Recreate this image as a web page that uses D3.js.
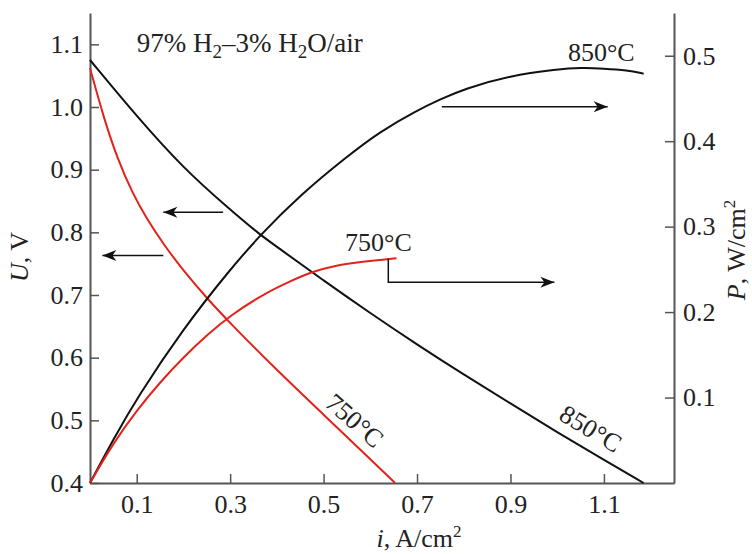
<!DOCTYPE html>
<html>
<head>
<meta charset="utf-8">
<script src="https://cdn.jsdelivr.net/npm/d3@7"></script>
<style>
    body { margin: 0; background: #fff; }
    svg { display: block; font-family: "Liberation Serif", "Times New Roman", serif; }
</style>
</head>
<body>
<div id="chart"></div>
<script>
// current density, A/cm2 and voltage, V
const i850U = [0, 0.1, 0.2, 0.3, 0.364, 0.4, 0.5, 0.6, 0.7, 0.8, 0.9, 1.0, 1.1, 1.185];
const u850 = [1.075, 0.985, 0.902, 0.836, 0.796, 0.777, 0.723, 0.671, 0.621, 0.573, 0.527, 0.481, 0.437, 0.40];
const i750U = [0, 0.03, 0.06, 0.09, 0.12, 0.16, 0.2, 0.25, 0.3, 0.4, 0.5, 0.6, 0.653];
const u750 = [1.062, 0.981, 0.915, 0.864, 0.823, 0.778, 0.739, 0.695, 0.655, 0.58, 0.509, 0.438, 0.40];

// power density, W/cm2
const i850P = [0, 0.05, 0.1, 0.2, 0.3, 0.364, 0.45, 0.55, 0.62, 0.7, 0.75, 0.8, 0.9, 1.0, 1.05, 1.1, 1.15, 1.185];
const p850 = [0, 0.051, 0.099, 0.181, 0.25, 0.29, 0.337, 0.382, 0.411, 0.436, 0.449, 0.461, 0.477, 0.484, 0.486, 0.485, 0.483, 0.479];
const i750P = [0, 0.05, 0.1, 0.15, 0.2, 0.25, 0.3, 0.371, 0.428, 0.474, 0.52, 0.585, 0.62, 0.656];
const p750 = [0, 0.047, 0.085, 0.118, 0.147, 0.173, 0.196, 0.221, 0.236, 0.247, 0.254, 0.259, 0.261, 0.263];

const xTicks = [0.1, 0.3, 0.5, 0.7, 0.9, 1.1];
const uTicks = [0.4, 0.5, 0.6, 0.7, 0.8, 0.9, 1.0, 1.1];
const pTicks = [0.1, 0.2, 0.3, 0.4, 0.5];

const width = 752, height = 554;
const margin = {top: 13, right: 78, bottom: 71, left: 90};
const black = '#111', red = '#e2231a', axisColor = '#555', textColor = '#222';
const fontSize = 26;

const svg = d3.select('#chart').append('svg')
    .attr('width', width)
    .attr('height', height);

const x = d3.scaleLinear().domain([0, 1.25]).range([margin.left, width - margin.right]);
const yU = d3.scaleLinear().domain([0.4, 1.15]).range([height - margin.bottom, margin.top]);
const yP = d3.scaleLinear().domain([0, 0.55]).range([height - margin.bottom, margin.top]);

function styleAxis(g) {
    g.attr('font-family', null).attr('font-size', null);
    g.select('.domain').attr('stroke', axisColor).attr('stroke-width', 2);
    g.selectAll('.tick line').attr('stroke', axisColor).attr('stroke-width', 1.5);
    g.selectAll('.tick text').attr('fill', textColor).style('font-size', fontSize + 'px');
}

svg.append('g')
    .attr('transform', `translate(0,${height - margin.bottom})`)
    .call(d3.axisBottom(x).tickValues(xTicks).tickSizeInner(-9).tickSizeOuter(0)
        .tickPadding(12).tickFormat(d3.format('.1f')))
    .call(styleAxis);

svg.append('g')
    .attr('transform', `translate(${margin.left},0)`)
    .call(d3.axisLeft(yU).tickValues(uTicks).tickSizeInner(-9).tickSizeOuter(0)
        .tickPadding(7).tickFormat(d3.format('.1f')))
    .call(styleAxis);

svg.append('g')
    .attr('transform', `translate(${width - margin.right},0)`)
    .call(d3.axisRight(yP).tickValues(pTicks).tickSizeInner(-9).tickSizeOuter(0)
        .tickPadding(9).tickFormat(d3.format('.1f')))
    .call(styleAxis);

// curves
const curves = [
    {xs: i850U, ys: u850, y: yU, color: black},
    {xs: i750U, ys: u750, y: yU, color: red},
    {xs: i850P, ys: p850, y: yP, color: black},
    {xs: i750P, ys: p750, y: yP, color: red}
];

curves.forEach(c => {
    const line = d3.line()
        .x(d => x(d[0]))
        .y(d => c.y(d[1]))
        .curve(d3.curveBasis);
    svg.append('path')
        .datum(d3.zip(c.xs, c.ys))
        .attr('fill', 'none')
        .attr('stroke', c.color)
        .attr('stroke-width', 2)
        .attr('d', line);
});

// arrows, points in data units: [i, value, scale]
function arrow(points) {
    const pts = points.map(p => [x(p[0]), p[2](p[1])]);
    svg.append('path')
        .attr('d', d3.line()(pts))
        .attr('fill', 'none')
        .attr('stroke', black)
        .attr('stroke-width', 1.5);
    const tip = pts[pts.length - 1], prev = pts[pts.length - 2];
    const a = Math.atan2(tip[1] - prev[1], tip[0] - prev[0]) * 180 / Math.PI;
    svg.append('path')
        .attr('d', 'M0,0 L-14,-5.5 L-10,0 L-14,5.5 Z')
        .attr('fill', black)
        .attr('transform', `translate(${tip[0]},${tip[1]}) rotate(${a})`);
}

arrow([[0.285, 0.832, yU], [0.157, 0.832, yU]]);
arrow([[0.157, 0.763, yU], [0.0265, 0.763, yU]]);
arrow([[0.753, 0.4404, yP], [1.108, 0.4404, yP]]);
arrow([[0.6385, 0.2625, yP], [0.6385, 0.235, yP], [0.994, 0.235, yP]]);

// text labels
const label = (px, py) => svg.append('text')
    .attr('x', px).attr('y', py)
    .attr('fill', textColor)
    .style('font-size', fontSize + 'px');

const title = label(x(0.1), yU(1.088)).style('font-size', '27px');
title.append('tspan').text('97% H');
title.append('tspan').text('2').attr('dy', 6).style('font-size', '19px');
title.append('tspan').text('–3% H').attr('dy', -6);
title.append('tspan').text('2').attr('dy', 6).style('font-size', '19px');
title.append('tspan').text('O/air').attr('dy', -6);

label(x(1.023), yP(0.494)).text('850°C');
label(x(0.546), yP(0.271)).text('750°C');

label(0, 0).attr('x', null).attr('y', null)
    .attr('text-anchor', 'middle').attr('dy', '0.35em')
    .attr('transform', `translate(${x(0.567)},${yU(0.5)}) rotate(41)`)
    .text('750°C');
label(0, 0).attr('x', null).attr('y', null)
    .attr('text-anchor', 'middle').attr('dy', '0.35em')
    .attr('transform', `translate(${x(1.072)},${yU(0.487)}) rotate(31)`)
    .text('850°C');

// axis titles
const xTitle = label(419, 547).attr('text-anchor', 'middle');
xTitle.append('tspan').text('i').style('font-style', 'italic');
xTitle.append('tspan').text(', A/cm');
xTitle.append('tspan').text('2').attr('dy', -10).style('font-size', '17px');

const uTitle = label(0, 0).attr('x', null).attr('y', null)
    .attr('text-anchor', 'middle')
    .attr('transform', 'translate(28,257) rotate(-90)');
uTitle.append('tspan').text('U').style('font-style', 'italic');
uTitle.append('tspan').text(', V');

const pTitle = label(0, 0).attr('x', null).attr('y', null)
    .attr('text-anchor', 'middle')
    .attr('transform', 'translate(745,250) rotate(-90)');
pTitle.append('tspan').text('P').style('font-style', 'italic');
pTitle.append('tspan').text(', W/cm');
pTitle.append('tspan').text('2').attr('dy', -10).style('font-size', '17px');
</script>
</body>
</html>
